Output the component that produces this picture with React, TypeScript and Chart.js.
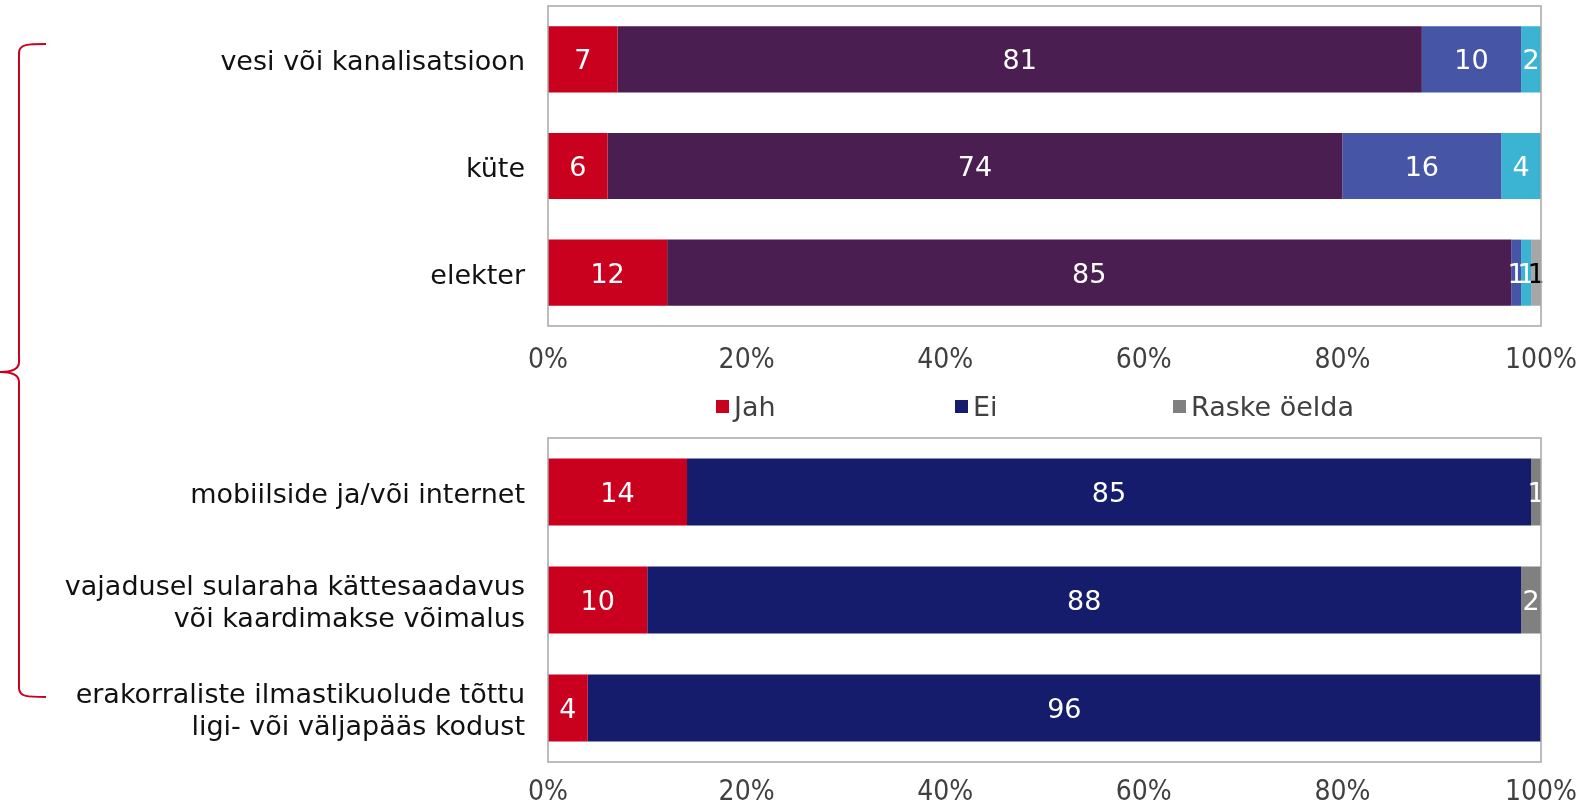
import React, { useEffect, useRef } from 'react';
import { Chart, registerables } from 'chart.js';

Chart.register(...registerables);

// ---------- DATA ----------
const topCategories = ['vesi või kanalisatsioon', 'küte', 'elekter'];
const topSeriesNames = ['Jah', 'Ei', 'Pigem ei', 'Ei tea', 'Raske öelda'];
const topJah = [7, 6, 12];
const topEi = [81, 74, 85];
const topPigemEi = [10, 16, 1];
const topEiTea = [2, 4, 1];
const topRaske = [0, 0, 1];

const bottomCategories = [
  ['mobiilside ja/või internet'],
  ['vajadusel sularaha kättesaadavus', 'või kaardimakse võimalus'],
  ['erakorraliste ilmastikuolude tõttu', 'ligi- või väljapääs kodust'],
];
const bottomSeriesNames = ['Jah', 'Ei', 'Raske öelda'];
const bottomJah = [14, 10, 4];
const bottomEi = [85, 88, 96];
const bottomRaske = [1, 2, 0];

const xTickValues = [0, 20, 40, 60, 80, 100];

// ---------- STYLE ----------
const topColors = ['#C9001E', '#4B1E51', '#4655A5', '#3BB3D2', '#A6A6A6'];
const topLabelColors = ['#FFFFFF', '#FFFFFF', '#FFFFFF', '#FFFFFF', '#000000'];
const bottomColors = ['#C9001E', '#141C6B', '#808080'];
const bottomLabelColors = ['#FFFFFF', '#FFFFFF', '#FFFFFF'];

const CAT_FONT = "'DejaVu Sans', Verdana, sans-serif";
const TICK_FONT = "'DejaVu Sans Condensed', 'DejaVu Sans', sans-serif";

const boxPlugin = {
  id: 'plotBox',
  afterDraw(chart: any) {
    const { ctx, chartArea } = chart;
    ctx.save();
    ctx.strokeStyle = '#A6A6A6';
    ctx.lineWidth = 1.5;
    ctx.strokeRect(chartArea.left, chartArea.top, chartArea.right - chartArea.left, chartArea.bottom - chartArea.top);
    ctx.restore();
  },
};

const valueLabelPlugin = {
  id: 'valueLabels',
  afterDatasetsDraw(chart: any) {
    const { ctx } = chart;
    ctx.save();
    ctx.font = `27px ${CAT_FONT}`;
    ctx.textAlign = 'center';
    ctx.textBaseline = 'middle';
    chart.data.datasets.forEach((ds: any, di: number) => {
      const meta = chart.getDatasetMeta(di);
      meta.data.forEach((el: any, i: number) => {
        const v = ds.data[i];
        if (!v) return;
        const p = el.getCenterPoint();
        ctx.fillStyle = ds.labelColor;
        ctx.fillText(String(v), p.x, p.y + 3);
      });
    });
    ctx.restore();
  },
};

function buildChart(
  canvas: HTMLCanvasElement,
  labels: any[],
  names: string[],
  series: number[][],
  colors: string[],
  labelColors: string[],
  padTop: number,
  xAxisHeight: number,
  tickPad: number
) {
  return new Chart(canvas, {
    type: 'bar',
    data: {
      labels,
      datasets: series.map((d, i) => ({
        label: names[i],
        data: d,
        backgroundColor: colors[i],
        borderWidth: 0,
        categoryPercentage: 1,
        barPercentage: 0.62,
        labelColor: labelColors[i],
      })) as any,
    },
    options: {
      indexAxis: 'y',
      responsive: false,
      animation: false,
      layout: { padding: { top: padTop, right: 49, bottom: 0, left: 0 } },
      plugins: {
        legend: { display: false },
        tooltip: { enabled: false },
      },
      scales: {
        x: {
          stacked: true,
          min: 0,
          max: 100,
          grid: { display: false, drawTicks: false },
          border: { display: false },
          afterBuildTicks: (axis: any) => {
            axis.ticks = xTickValues.map((v) => ({ value: v }));
          },
          afterFit: (axis: any) => {
            axis.height = xAxisHeight;
            axis.paddingLeft = 0;
            axis.paddingRight = 0;
          },
          ticks: {
            padding: tickPad,
            color: '#404040',
            font: { family: TICK_FONT, size: 28 },
            maxRotation: 0,
            autoSkip: false,
            callback: (v: any) => `${v}%`,
          },
        },
        y: {
          stacked: true,
          grid: { display: false, drawTicks: false },
          border: { display: false },
          afterFit: (axis: any) => {
            axis.width = 548;
            axis.paddingTop = 0;
            axis.paddingBottom = 0;
          },
          ticks: {
            padding: 23,
            labelOffset: 4,
            color: '#111111',
            font: { family: CAT_FONT, size: 27, lineHeight: 1.15 },
            autoSkip: false,
          },
        },
      },
    } as any,
    plugins: [boxPlugin, valueLabelPlugin],
  });
}

export default function App() {
  const topRef = useRef<HTMLCanvasElement>(null);
  const botRef = useRef<HTMLCanvasElement>(null);

  useEffect(() => {
    const c1 = buildChart(
      topRef.current!,
      topCategories,
      topSeriesNames,
      [topJah, topEi, topPigemEi, topEiTea, topRaske],
      topColors,
      topLabelColors,
      6,
      54,
      18
    );
    const c2 = buildChart(
      botRef.current!,
      bottomCategories,
      bottomSeriesNames,
      [bottomJah, bottomEi, bottomRaske],
      bottomColors,
      bottomLabelColors,
      18,
      44,
      14
    );
    return () => {
      c1.destroy();
      c2.destroy();
    };
  }, []);

  const legendLefts = [716, 955, 1173];

  return (
    <div style={{ position: 'absolute', left: 0, top: 0, width: 1590, height: 806, background: '#fff', overflow: 'hidden' }}>
      <canvas ref={topRef} width={1590} height={380} style={{ position: 'absolute', left: 0, top: 0, display: 'block' }} />
      <canvas ref={botRef} width={1590} height={386} style={{ position: 'absolute', left: 0, top: 420, display: 'block' }} />
      {bottomSeriesNames.map((n, i) => (
        <div
          key={n}
          style={{
            position: 'absolute',
            left: legendLefts[i],
            top: 390,
            height: 32,
            display: 'flex',
            alignItems: 'center',
            fontFamily: CAT_FONT,
            fontSize: 27,
            color: '#404040',
            whiteSpace: 'nowrap',
          }}
        >
          <span style={{ display: 'inline-block', width: 13, height: 13, background: bottomColors[i], marginRight: 5 }} />
          {n}
        </div>
      ))}
      <svg width={60} height={806} style={{ position: 'absolute', left: 0, top: 0 }}>
        <path
          d="M46 44 C28 44 19 44 19 53 L19 362 C19 369 13 372 0 372 C13 372 19 375 19 382 L19 688 C19 697 28 697 46 697"
          fill="none"
          stroke="#C9001E"
          strokeWidth={2}
        />
      </svg>
    </div>
  );
}
